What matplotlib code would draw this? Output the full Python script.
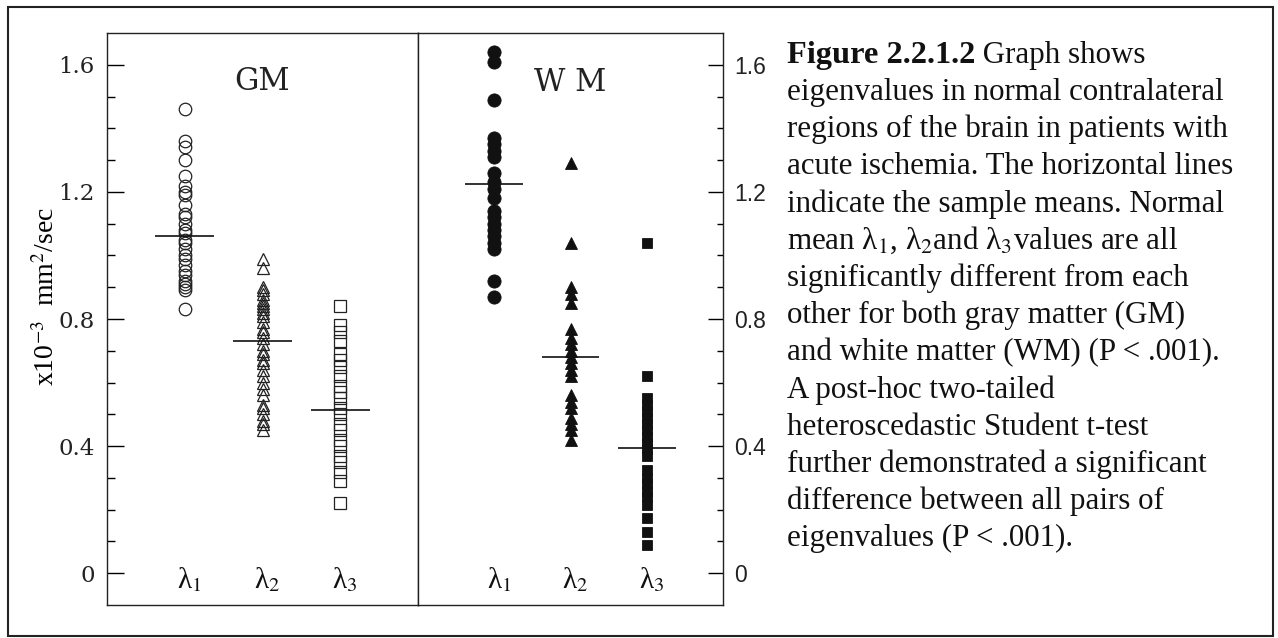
import matplotlib.pyplot as plt
from matplotlib.patches import Rectangle

plt.rcParams['mathtext.fontset'] = 'stix'

# data (x10^-3 mm^2/sec)
positions = [1, 2, 3]
lambda_labels = ['λ$_1$', 'λ$_2$', 'λ$_3$']

gm_l1 = [1.46, 1.36, 1.34, 1.30, 1.25, 1.22, 1.20, 1.19, 1.16, 1.13, 1.12, 1.10,
         1.08, 1.07, 1.05, 1.04, 1.02, 1.00, 0.99, 0.97, 0.95, 0.94, 0.92, 0.91,
         0.90, 0.89, 0.83]
gm_l2 = [0.99, 0.96, 0.90, 0.89, 0.88, 0.86, 0.85, 0.84, 0.83, 0.82, 0.81, 0.79,
         0.77, 0.76, 0.74, 0.72, 0.70, 0.69, 0.67, 0.66, 0.64, 0.62, 0.60, 0.58,
         0.56, 0.53, 0.52, 0.50, 0.48, 0.47, 0.45]
gm_l3 = [0.84, 0.78, 0.76, 0.73, 0.69, 0.67, 0.65, 0.62, 0.59, 0.57, 0.55, 0.52,
         0.50, 0.47, 0.45, 0.42, 0.40, 0.37, 0.35, 0.32, 0.29, 0.22]
gm_means = [1.06, 0.73, 0.515]

wm_l1 = [1.64, 1.61, 1.49, 1.37, 1.35, 1.33, 1.31, 1.26, 1.23, 1.21, 1.18, 1.14,
         1.12, 1.10, 1.08, 1.06, 1.04, 1.02, 0.92, 0.87]
wm_l2 = [1.29, 1.04, 0.90, 0.88, 0.85, 0.77, 0.74, 0.72, 0.70, 0.68, 0.66, 0.64,
         0.62, 0.56, 0.54, 0.52, 0.49, 0.47, 0.45, 0.42]
wm_l3 = [1.04, 0.62, 0.55, 0.53, 0.51, 0.49, 0.47, 0.45, 0.43, 0.41, 0.39, 0.37,
         0.325, 0.30, 0.28, 0.26, 0.24, 0.215, 0.175, 0.13, 0.088]
wm_means = [1.225, 0.68, 0.395]

ytick_vals = [0, 0.4, 0.8, 1.2, 1.6]
ytick_labels = ['0', '0.4', '0.8', '1.2', '1.6']
minor_vals = [i / 10 for i in range(0, 17)]

caption = [
    'eigenvalues in normal contralateral',
    'regions of the brain in patients with',
    'acute ischemia. The horizontal lines',
    'indicate the sample means. Normal',
    'mean λ$_1$, λ$_2$and λ$_3$values are all',
    'significantly different from each',
    'other for both gray matter (GM)',
    'and white matter (WM) (P < .001).',
    'A post-hoc two-tailed',
    'heteroscedastic Student t-test',
    'further demonstrated a significant',
    'difference between all pairs of',
    'eigenvalues (P < .001).',
]

W, H = 1278, 638
fig = plt.figure(figsize=(W / 100, H / 100), dpi=100)
ax1 = fig.add_axes([107 / W, 1 - 605 / H, 311 / W, 572 / H])
ax2 = fig.add_axes([418 / W, 1 - 605 / H, 305 / W, 572 / H])

gm_series = [(gm_l1, 'o', 9.0), (gm_l2, '^', 9.0), (gm_l3, 's', 8.0)]
wm_series = [(wm_l1, 'o', 9.5), (wm_l2, '^', 9.0), (wm_l3, 's', 7.6)]

for x, (vals, m, ms) in zip(positions, gm_series):
    ax1.plot([x] * len(vals), vals, ls='none', marker=m, ms=ms,
             mfc='none', mec='#222222', mew=0.9)
for x, (vals, m, ms) in zip(positions, wm_series):
    ax2.plot([x] * len(vals), vals, ls='none', marker=m, ms=ms,
             mfc='#111111', mec='#111111', mew=0.6)

for ax, means in [(ax1, gm_means), (ax2, wm_means)]:
    ax.hlines(means, [p - 0.38 for p in positions], [p + 0.38 for p in positions],
              color='#111111', lw=1.2)
    ax.set_xlim(0, 4)
    ax.set_ylim(-0.1, 1.7)
    ax.set_xticks([])
    ax.set_yticks(ytick_vals)
    ax.set_yticks(minor_vals, minor=True)
    for s in ax.spines.values():
        s.set_linewidth(1.0)
        s.set_color('#222222')
    for x, lab in zip(positions, lambda_labels):
        ax.text(x + 0.06, -0.047, lab, ha='center', va='baseline',
                family='Liberation Serif', fontsize=21, color='#111111')

# left (GM) axis
ax1.set_yticklabels(ytick_labels, family='DejaVu Serif', fontsize=16.5, color='#222222')
ax1.tick_params(axis='y', which='major', direction='in', length=12, width=1, pad=9)
ax1.tick_params(axis='y', which='minor', direction='in', length=6, width=1)
ax1.set_ylabel(r'x10$^{-3}$  mm$^{2}$/sec', family='Liberation Serif', fontsize=20)
ax1.yaxis.set_label_coords(-0.15, 0.54)
ax1.text(2, 1.548, 'GM', ha='center', va='center', family='DejaVu Serif',
         fontsize=22, color='#222222')

# right (WM) axis
ax2.yaxis.tick_right()
ax2.set_yticklabels(ytick_labels, family='Liberation Sans', fontsize=16.5, color='#222222')
ax2.tick_params(axis='y', which='major', direction='in', length=11, width=1, pad=8)
ax2.tick_params(axis='y', which='minor', direction='in', length=4.5, width=1)
ax2.text(2, 1.545, 'W M', ha='center', va='center', family='DejaVu Serif',
         fontsize=22, color='#222222')

# caption
x0 = 787 / W
fs = 22.3
first = fig.text(x0, 1 - 63 / H, 'Figure 2.2.1.2', family='Liberation Serif',
                 fontweight='bold', fontsize=fs + 1, va='baseline', color='#111111')
fig.add_artist(plt.Annotation(' Graph shows', xy=(1, 0), xycoords=first,
                              va='bottom', ha='left', family='Liberation Serif',
                              fontsize=fs, color='#111111'))
for i, line in enumerate(caption):
    fig.text(x0, 1 - (100 + 37.2 * i) / H, line, family='Liberation Serif',
             fontsize=fs, va='baseline', color='#111111')

# outer frame
fig.add_artist(Rectangle((8 / W, 2 / H), 1265 / W, 629 / H, transform=fig.transFigure,
                         fill=False, lw=1.5, ec='#222222'))

fig.savefig('out.png', dpi=100, facecolor='white')
